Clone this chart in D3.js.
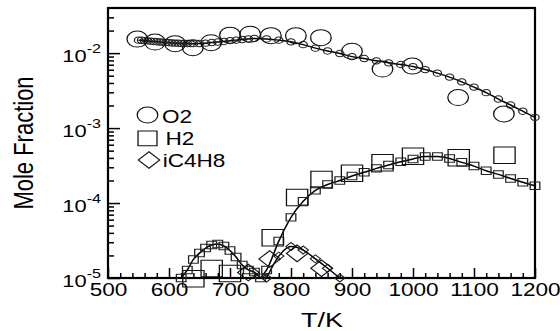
<!DOCTYPE html>
<html><head><meta charset="utf-8">
<script src="https://cdn.jsdelivr.net/npm/d3@7"></script>
<style>
body{margin:0;background:#fff}
svg{display:block;background:#fff}
text{font-family:"Liberation Sans",Arial,Helvetica,sans-serif;fill:#000}
</style>
</head><body>
<svg id="c" width="560" height="331"></svg>
<script>
// ---------- tick labels ----------
const xTicks = [500,600,700,800,900,1000,1100,1200];
const yTicks = [1e-5,1e-4,1e-3,1e-2];
const yTickExp = ["-5","-4","-3","-2"];
const legendLabels = ["O2","H2","iC4H8"];
const xLabel = "T/K";
const yLabel = "Mole Fraction";

// ---------- O2 ----------
const o2SimT = [550,555,560,565,570,575,580,585,590,595,600,605,610,615,620,625,630,635,640,
  650,660,670,680,690,700,710,720,730,740,
  760,780,800,820,840,860,880,900,920,940,960,980,1000,1020,1040,1060,1080,1100,1120,1140,1160,1180,1200];
const o2SimV = [0.01491,0.01482,0.01468,0.01455,0.01445,0.01432,0.01419,0.01406,0.01397,0.01389,0.01376,0.01367,0.01359,0.01355,0.01351,0.01347,0.01342,0.01338,0.01338,
  0.01342,0.01359,0.01384,0.01406,0.01432,0.01468,0.01491,0.01519,0.01547,0.01572,
  0.01547,0.01491,0.01415,0.01298,0.01166,0.01070,0.00988,0.00898,0.00847,0.00789,0.00742,0.00705,0.00661,0.00603,0.00541,0.00479,0.00414,0.00352,0.00297,0.00244,0.00203,0.00168,0.00139];
const o2ExpT = [548,577,610,639,669,700,733,767,808,849,900,950,999,1074,1149];
const o2ExpV = [0.01538,0.01403,0.01339,0.01183,0.0138,0.01738,0.01791,0.01712,0.01712,0.0161,0.01063,0.00612,0.00671,0.00255,0.00154];

// ---------- H2 ----------
const h2SimT = [620,630,640,650,660,670,680,690,700,710,720,730,740,750,760,
  780,800,820,840,860,880,900,920,940,960,980,1000,1020,1040,1060,1080,1100,1120,1140,1160,1180,1200];
const h2SimV = [1.0e-5,1.28e-5,1.77e-5,2.15e-5,2.51e-5,2.75e-5,2.84e-5,2.67e-5,2.33e-5,1.9e-5,1.49e-5,1.28e-5,1.2e-5,1.0e-5,1.28e-5,
  3.11e-5,6.44e-5,1.054e-4,1.476e-4,1.765e-4,1.995e-4,2.29e-4,2.57e-4,2.90e-4,3.21e-4,3.56e-4,3.88e-4,4.17e-4,4.17e-4,3.94e-4,3.49e-4,3.11e-4,2.70e-4,2.41e-4,2.13e-4,1.89e-4,1.70e-4];
const h2ExpT = [640,670,700,770,810,850,900,950,1000,1075,1150];
const h2ExpV = [0.98e-5,1.34e-5,1.15e-5,3.44e-5,1.19e-4,2.06e-4,2.49e-4,3.44e-4,4.21e-4,4.02e-4,4.33e-4];

// ---------- iC4H8 ----------
const ic4SimT = [760,780,800,820,840,860,880];
const ic4SimV = [1.0e-5,1.96e-5,2.63e-5,2.36e-5,1.80e-5,1.35e-5,1.0e-5];
const ic4ExpT = [730,765,810,850];
const ic4ExpV = [1.18e-5,1.79e-5,2.13e-5,1.35e-5];

// ---------- drawing ----------
const SX = 1.29;  // horizontal stretch of the original picture
const svg = d3.select("#c");
const x = d3.scaleLinear().domain([500,1200]).range([108,535]);
const y = d3.scaleLog().domain([1e-5,0.04]).range([278,8]);

const zip = (T,V)=>T.map((t,i)=>({t:t,v:V[i]}));

// minor ticks
const xMinor = d3.range(500,1201,20).filter(v=>v%100!==0);
const yMinor = [];
[-5,-4,-3,-2].forEach(k=>{ for(let m=2;m<=9;m++){ const v=m*Math.pow(10,k); if(v<0.0399) yMinor.push(v);} });

function cleanAxis(g){
  g.attr("font-size",null).attr("font-family",null);
  g.select(".domain").remove();
  g.selectAll(".tick line").attr("stroke","#000").attr("stroke-width",1.5);
}

// x axis
svg.append("g").attr("transform","translate(0,278)")
  .call(d3.axisBottom(x).tickValues(xMinor).tickSize(-5).tickFormat(""))
  .call(cleanAxis);
const gx = svg.append("g").attr("transform","translate(0,278)")
  .call(d3.axisBottom(x).tickValues(xTicks).tickSize(-10).tickFormat(d=>String(d)))
  .call(cleanAxis);
gx.selectAll(".tick text")
  .attr("y",null).attr("dy",null).attr("fill","#000")
  .attr("font-size",17.5).attr("text-anchor","middle")
  .attr("transform",`translate(0,17.5) scale(${SX},1)`);

// y axis
svg.append("g").attr("transform","translate(108,0)")
  .call(d3.axisLeft(y).tickValues(yMinor).tickSize(-6).tickFormat(""))
  .call(cleanAxis);
const gy = svg.append("g").attr("transform","translate(108,0)")
  .call(d3.axisLeft(y).tickValues(yTicks).tickSize(-12).tickFormat(""))
  .call(cleanAxis);
gy.selectAll(".tick text").remove();
gy.selectAll(".tick").each(function(d,i){
  const t = d3.select(this).append("text")
    .attr("text-anchor","end")
    .attr("transform",`translate(-7,8.5) scale(${SX},1)`);
  t.append("tspan").attr("font-size",17).text("10");
  t.append("tspan").attr("font-size",12.5).attr("dy",-8.8).text(yTickExp[i]);
});

// frame
svg.append("rect").attr("x",x(500)).attr("y",y(0.04))
  .attr("width",x(1200)-x(500)).attr("height",y(1e-5)-y(0.04))
  .attr("fill","none").attr("stroke","#000").attr("stroke-width",2.2);

// axis titles
svg.append("text").attr("text-anchor","middle").attr("font-size",21)
  .attr("transform",`translate(322,327) scale(${SX},1)`).text(xLabel);
svg.append("text").attr("text-anchor","middle").attr("font-size",22)
  .attr("transform",`translate(33,143) scale(${SX},1) rotate(-90)`).text(yLabel);

// lines
const line = d3.line().x(d=>x(d.t)).y(d=>y(d.v)).curve(d3.curveMonotoneX);
const lineG = svg.append("g").attr("fill","none").attr("stroke","#000").attr("stroke-width",1.5);
lineG.append("path").attr("d",line(zip(o2SimT,o2SimV)));
lineG.append("path").attr("d",line(zip(h2SimT.slice(0,14),h2SimV.slice(0,14))));
lineG.append("path").attr("d",line(zip(h2SimT.slice(13),h2SimV.slice(13))));
lineG.append("path").attr("d",line(zip(ic4SimT,ic4SimV)));

// markers
const shapes = {
  circle: d3.symbolCircle,
  square: d3.symbolSquare,
  diamond: d3.symbolSquare
};
function markers(data, type, size, sw, col){
  svg.append("g").selectAll("path").data(data).join("path")
    .attr("transform",d=>`translate(${x(d.t)},${y(d.v)}) scale(${SX},1)` + (type==="diamond"?" rotate(45)":""))
    .attr("d",d3.symbol().type(shapes[type]).size(size)())
    .attr("fill","none").attr("stroke",col).attr("stroke-width",sw);
}
// small (model) markers
markers(zip(o2SimT,o2SimV),"circle",Math.PI*3.2*3.2,1,"#222");
markers(zip(h2SimT,h2SimV),"square",56,1,"#222");
markers(zip(ic4SimT,ic4SimV),"diamond",32,1,"#222");
// large (experiment) markers
markers(zip(o2ExpT,o2ExpV),"circle",Math.PI*64,1,"#111");
markers(zip(h2ExpT,h2ExpV),"square",272,1,"#111");
markers(zip(ic4ExpT,ic4ExpV),"diamond",138,1,"#111");

// legend
const legY = [115,138.3,160];
const legType = ["circle","square","diamond"];
const legSize = [Math.PI*64,216,138];
const legTextX = [162,165.5,162.7];
const legTextY = [122.5,145,167];
const lg = svg.append("g");
legendLabels.forEach((lab,i)=>{
  lg.append("path")
    .attr("transform",`translate(${i===2?149:147.5},${legY[i]}) scale(${SX},1)` + (legType[i]==="diamond"?" rotate(45)":""))
    .attr("d",d3.symbol().type(shapes[legType[i]]).size(legSize[i])())
    .attr("fill","none").attr("stroke","#111").attr("stroke-width",1);
  lg.append("text").attr("font-size",17.5)
    .attr("transform",`translate(${legTextX[i]},${legTextY[i]}) scale(${SX},1)`)
    .text(lab);
});
</script>
</body></html>
